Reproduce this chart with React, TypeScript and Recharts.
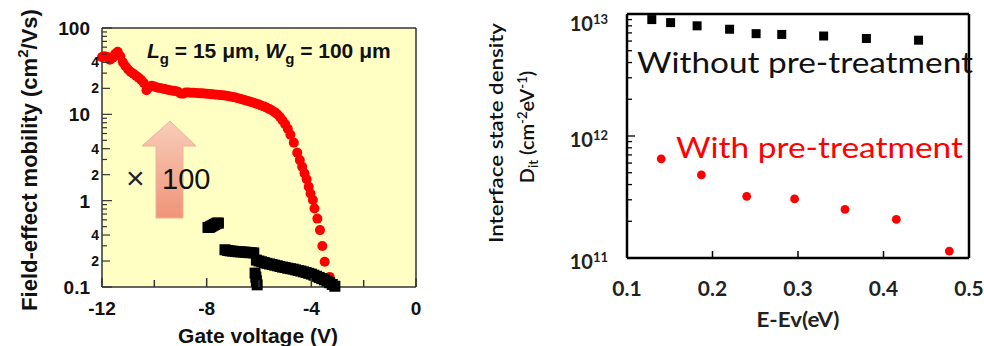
import React from 'react';
import { ScatterChart, Scatter, XAxis, YAxis, CartesianGrid } from 'recharts';

const FONT_L = '"Liberation Sans", Arial, sans-serif';
const FONT_R = 'Lato, "Open Sans", sans-serif';

// ---------- Left panel data: field-effect mobility vs gate voltage ----------
const gateVoltageRed = [
  -12.0, -11.9, -11.8, -11.7, -11.6, -11.5, -11.4, -11.3, -11.2, -11.1,
  -11.0, -10.9, -10.8, -10.7, -10.6, -10.5, -10.4, -10.3, -10.2, -10.1,
  -10.0, -9.9, -9.8, -9.7, -9.6, -9.5, -9.4, -9.3, -9.2, -9.1,
  -9.0, -8.9, -8.8, -8.7, -8.6, -8.5, -8.4, -8.3, -8.2, -8.1,
  -8.0, -7.9, -7.8, -7.7, -7.6, -7.5, -7.4, -7.3, -7.2, -7.1,
  -7.0, -6.9, -6.8, -6.7, -6.6, -6.5, -6.4, -6.3, -6.2, -6.1,
  -6.0, -5.9, -5.8, -5.7, -5.6, -5.5, -5.4, -5.3, -5.2, -5.1,
  -5.0, -4.9, -4.8, -4.67, -4.54, -4.44, -4.35, -4.26, -4.18, -4.1,
  -4.03, -3.94, -3.88, -3.77, -3.67, -3.58, -3.49, -3.3,
];
const mobilityRed = [
  46, 47, 46, 43, 45, 50, 53, 47, 40, 36,
  33, 31, 29.5, 28, 26.5, 25, 23, 19, 20.5, 21.5,
  21, 20.5, 20.2, 19.9, 19.6, 19.3, 19, 18.8, 18.6, 18.3,
  17.4, 17.3, 17.9, 17.9, 17.8, 17.8, 17.7, 17.6, 17.5, 17.4,
  17.3, 17.2, 17.1, 17.0, 16.9, 16.8, 16.6, 16.5, 16.3, 16.1,
  15.9, 15.7, 15.4, 15.1, 14.8, 14.5, 14.2, 13.9, 13.6, 13.3,
  13.0, 12.6, 12.3, 11.9, 11.5, 11.1, 10.6, 10.0, 9.3, 8.5,
  7.7, 6.8, 5.8, 4.7, 3.6, 2.95, 2.47, 2.07, 1.77, 1.45,
  1.21, 1.02, 0.81, 0.62, 0.456, 0.298, 0.196, 0.131,
];
const gateVoltageBlack = [
  -7.95, -7.9, -7.85, -7.8, -7.75, -7.7, -7.65, -7.6, -7.55,
  -7.3, -7.2, -7.1, -7.0, -6.9, -6.8, -6.7, -6.6, -6.5, -6.4, -6.3, -6.2,
  -6.15, -6.12, -6.1, -6.07,
  -6.1, -6.0, -5.9, -5.8, -5.7, -5.6, -5.5, -5.4, -5.3, -5.2, -5.1,
  -5.0, -4.9, -4.8, -4.7, -4.6, -4.5, -4.4, -4.3, -4.2, -4.1,
  -4.0, -3.9, -3.8, -3.7, -3.6, -3.5, -3.4, -3.3, -3.2, -3.1,
];
const mobilityBlack = [
  0.49, 0.49, 0.5, 0.51, 0.52, 0.53, 0.54, 0.55, 0.55,
  0.27, 0.265, 0.262, 0.26, 0.258, 0.256, 0.255, 0.254, 0.253, 0.25, 0.25, 0.248,
  0.145, 0.13, 0.118, 0.106,
  0.205, 0.2, 0.196, 0.192, 0.188, 0.185, 0.182, 0.179, 0.176, 0.173, 0.17,
  0.168, 0.165, 0.163, 0.161, 0.158, 0.155, 0.153, 0.15, 0.147, 0.144,
  0.141, 0.137, 0.133, 0.129, 0.125, 0.121, 0.117, 0.112, 0.107, 0.102,
];

const leftXTicks = [-12, -10, -8, -6, -4, -2, 0];
const leftXLabeled = [-12, -8, -4, 0];
const leftYTicks = [
  0.1, 0.2, 0.3, 0.4, 0.5, 0.6, 0.7, 0.8, 0.9,
  1, 2, 3, 4, 5, 6, 7, 8, 9,
  10, 20, 30, 40, 50, 60, 70, 80, 90, 100,
];

// ---------- Right panel data: interface state density ----------
const energyWithout = [0.129, 0.151, 0.182, 0.22, 0.251, 0.281, 0.33, 0.38, 0.441];
const ditWithout = [9.0e12, 8.5e12, 8.0e12, 7.5e12, 6.9e12, 6.8e12, 6.6e12, 6.3e12, 6.1e12];
const energyWith = [0.14, 0.187, 0.24, 0.296, 0.355, 0.415, 0.477];
const ditWith = [6.5e11, 4.8e11, 3.2e11, 3.05e11, 2.5e11, 2.07e11, 1.14e11];

const rightXTicks = [0.1, 0.2, 0.3, 0.4, 0.5];
const rightYTicks = [
  1e11, 2e11, 3e11, 4e11, 5e11, 6e11, 7e11, 8e11, 9e11,
  1e12, 2e12, 3e12, 4e12, 5e12, 6e12, 7e12, 8e12, 9e12, 1e13,
];

const toPoints = (xs: number[], ys: number[]) => xs.map((x, i) => ({ x, y: ys[i] }));
const redData = toPoints(gateVoltageRed, mobilityRed);
const blackData = toPoints(gateVoltageBlack, mobilityBlack);
const withoutData = toPoints(energyWithout, ditWithout);
const withData = toPoints(energyWith, ditWith);

const mantissa = (v: number) => {
  const e = Math.floor(Math.log10(v) + 1e-9);
  return { m: Math.round(v / Math.pow(10, e)), e };
};

const FRAME_L = '#333';

function LeftBottomTick(props: any) {
  const { x, y, payload } = props;
  const v = payload.value;
  const labeled = leftXLabeled.includes(v);
  return (
    <g>
      <line x1={x} x2={x} y1={y} y2={y - (labeled ? 9 : 7)} stroke={FRAME_L} strokeWidth={1.5} />
      {labeled && (
        <text x={x} y={y + 28} textAnchor="middle" fontFamily={FONT_L} fontSize={19} fontWeight="bold" fill="#111">
          {String(v)}
        </text>
      )}
    </g>
  );
}

function LeftTopTick(props: any) {
  const { x, y } = props;
  return <line x1={x} x2={x} y1={y} y2={y + 8} stroke={FRAME_L} strokeWidth={1.5} />;
}

function LeftYTick(props: any) {
  const { x, y, payload } = props;
  const { m } = mantissa(payload.value);
  const len = m === 1 ? 10 : m === 2 || m === 4 ? 8 : 5;
  return (
    <g>
      <line x1={x} x2={x + len} y1={y} y2={y} stroke={FRAME_L} strokeWidth={1.2} />
      {m === 1 && (
        <text x={x - 12} y={y + 7} textAnchor="end" fontFamily={FONT_L} fontSize={19} fontWeight="bold" fill="#111">
          {String(payload.value)}
        </text>
      )}
      {(m === 2 || m === 4) && (
        <text x={x - 3} y={y + 5} textAnchor="end" fontFamily={FONT_L} fontSize={14} fontWeight="bold" fill="#111">
          {String(m)}
        </text>
      )}
    </g>
  );
}

function LeftRightTick(props: any) {
  const { x, y, payload } = props;
  const { m } = mantissa(payload.value);
  const len = m === 1 ? 10 : m === 2 || m === 4 ? 8 : 5;
  return <line x1={x} x2={x - len} y1={y} y2={y} stroke={FRAME_L} strokeWidth={1.2} />;
}

function RightXTick(props: any) {
  const { x, y, payload } = props;
  return (
    <g>
      <line x1={x} x2={x} y1={y} y2={y - 7} stroke="#000" strokeWidth={1.5} />
      <text x={x} y={y + 38} textAnchor="middle" fontFamily={FONT_R} fontSize={21} fontWeight="bold" fill="#222">
        {payload.value.toFixed(1)}
      </text>
    </g>
  );
}

function RightYTick(props: any) {
  const { x, y, payload } = props;
  const { m, e } = mantissa(payload.value);
  const len = m === 1 ? 8 : 5;
  const base = e === 13 ? y + 17 : y + 11;
  return (
    <g>
      <line x1={x} x2={x + len} y1={y} y2={y} stroke="#000" strokeWidth={1.3} />
      {m === 1 && (
        <text x={x - 19} y={base} textAnchor="end" fontFamily={FONT_R} fontSize={20} fontWeight="bold" fill="#222">
          10<tspan dy={-7} fontSize={13}>{String(e)}</tspan>
        </text>
      )}
    </g>
  );
}

const RedDot = (p: any) => <circle cx={p.cx} cy={p.cy} r={5} fill="#FF0000" />;
const BlackSquare = (p: any) => <rect x={p.cx - 5.5} y={p.cy - 5.5} width={11} height={11} fill="#000" />;
const RedDotSmall = (p: any) => <circle cx={p.cx} cy={p.cy} r={4.4} fill="#FF0000" />;
const BlackSquareSmall = (p: any) => <rect x={p.cx - 4.5} y={p.cy - 4.5} width={9} height={9} fill="#000" />;

export default function App() {
  return (
    <div style={{ position: 'absolute', left: 0, top: 0, width: 984, height: 346, background: '#fff', overflow: 'hidden' }}>
      <div style={{ position: 'absolute', left: 0, top: 0 }}>
        <ScatterChart width={430} height={346} margin={{ top: 27, right: 13, bottom: 19, left: 42 }}>
          <CartesianGrid xAxisId="b" yAxisId="l" fill="#FFFFC4" fillOpacity={1} horizontal={false} vertical={false} stroke="none" />
          <XAxis
            xAxisId="b" type="number" dataKey="x" domain={[-12, 0]} ticks={leftXTicks} interval={0}
            tickSize={0} tickMargin={0} tickLine={false} tick={(p: any) => <LeftBottomTick {...p} />}
            axisLine={{ stroke: FRAME_L, strokeWidth: 1.5 }} height={40} orientation="bottom"
          />
          <XAxis
            xAxisId="t" type="number" domain={[-12, 0]} ticks={leftXTicks} interval={0}
            tickSize={0} tickMargin={0} tickLine={false} tick={(p: any) => <LeftTopTick {...p} />}
            axisLine={{ stroke: FRAME_L, strokeWidth: 1.5 }} height={1} orientation="top"
          />
          <YAxis
            yAxisId="l" type="number" dataKey="y" scale="log" domain={[0.1, 100]} ticks={leftYTicks} interval={0}
            tickSize={0} tickMargin={0} tickLine={false} tick={(p: any) => <LeftYTick {...p} />}
            axisLine={{ stroke: FRAME_L, strokeWidth: 1.5 }} width={60} orientation="left"
          />
          <YAxis
            yAxisId="r" type="number" scale="log" domain={[0.1, 100]} ticks={leftYTicks} interval={0}
            tickSize={0} tickMargin={0} tickLine={false} tick={(p: any) => <LeftRightTick {...p} />}
            axisLine={{ stroke: FRAME_L, strokeWidth: 1.5 }} width={1} orientation="right"
          />
          <Scatter xAxisId="b" yAxisId="l" data={redData} shape={RedDot} isAnimationActive={false} />
          <Scatter xAxisId="b" yAxisId="l" data={blackData} shape={BlackSquare} isAnimationActive={false} />
        </ScatterChart>
      </div>

      <div style={{ position: 'absolute', left: 480, top: 0 }}>
        <ScatterChart width={504} height={346} margin={{ top: 13, right: 14, bottom: 48, left: 57 }}>
          <XAxis
            xAxisId="b" type="number" dataKey="x" domain={[0.1, 0.5]} ticks={rightXTicks} interval={0}
            tickSize={0} tickMargin={0} tickLine={false} tick={(p: any) => <RightXTick {...p} />}
            axisLine={{ stroke: '#000', strokeWidth: 2.5 }} height={40} orientation="bottom"
          />
          <XAxis
            xAxisId="t" type="number" domain={[0.1, 0.5]} ticks={rightXTicks} tick={false} tickLine={false}
            axisLine={{ stroke: '#000', strokeWidth: 2.5 }} height={1} orientation="top"
          />
          <YAxis
            yAxisId="l" type="number" dataKey="y" scale="log" domain={[1e11, 1e13]} ticks={rightYTicks} interval={0}
            tickSize={0} tickMargin={0} tickLine={false} tick={(p: any) => <RightYTick {...p} />}
            axisLine={{ stroke: '#000', strokeWidth: 2.5 }} width={90} orientation="left"
          />
          <YAxis
            yAxisId="r" type="number" scale="log" domain={[1e11, 1e13]} ticks={rightYTicks} tick={false} tickLine={false}
            axisLine={{ stroke: '#000', strokeWidth: 2.5 }} width={1} orientation="right"
          />
          <Scatter xAxisId="b" yAxisId="l" data={withoutData} shape={BlackSquareSmall} isAnimationActive={false} />
          <Scatter xAxisId="b" yAxisId="l" data={withData} shape={RedDotSmall} isAnimationActive={false} />
        </ScatterChart>
      </div>

      <svg width={984} height={346} style={{ position: 'absolute', left: 0, top: 0, pointerEvents: 'none' }}>
        <defs>
          <linearGradient id="arrowGrad" x1="0" y1="0" x2="0" y2="1">
            <stop offset="0" stopColor="#F8CDB8" />
            <stop offset="1" stopColor="#EF9479" />
          </linearGradient>
        </defs>
        {/* Left panel annotations */}
        <polygon points="170,121 196,146 183,146 183,218 156,218 156,146 142,146" fill="url(#arrowGrad)" stroke="#F2B09A" strokeWidth={1} />
        <text x={126} y={189} fontFamily={FONT_L} fontSize={32} fill="#222">×</text>
        <text x={162} y={189} fontFamily={FONT_L} fontSize={29} fill="#111">100</text>
        <text x={147} y={58} fontFamily={FONT_L} fontSize={21} fontWeight="bold" fill="#111">
          <tspan fontStyle="italic">L</tspan>
          <tspan dy={6} fontSize={15}>g</tspan>
          <tspan dy={-6}> = 15 μm, </tspan>
          <tspan fontStyle="italic">W</tspan>
          <tspan dy={6} fontSize={15}>g</tspan>
          <tspan dy={-6}> = 100 μm</tspan>
        </text>
        <text x={258} y={343} textAnchor="middle" fontFamily={FONT_L} fontSize={21} fontWeight="bold" fill="#111">
          Gate voltage (V)
        </text>
        <text transform="translate(37,160) rotate(-90)" textAnchor="middle" fontFamily={FONT_L} fontSize={22} fontWeight="bold" fill="#111">
          Field-effect mobility (cm<tspan dy={-9} fontSize={15}>2</tspan><tspan dy={9}>/Vs)</tspan>
        </text>

        {/* Right panel annotations */}
        <text x={637} y={73} fontFamily={FONT_R} fontSize={28} fill="#111" textLength={336} lengthAdjust="spacingAndGlyphs">
          Without pre-treatment
        </text>
        <text x={676} y={158} fontFamily={FONT_R} fontSize={28} fill="#FF0000" textLength={287} lengthAdjust="spacingAndGlyphs">
          With pre-treatment
        </text>
        <text x={798} y={327} textAnchor="middle" fontFamily={FONT_R} fontSize={20} fontWeight="bold" fill="#222" textLength={83} lengthAdjust="spacingAndGlyphs">
          E-Ev(eV)
        </text>
        <text transform="translate(503,133) rotate(-90)" textAnchor="middle" fontFamily={FONT_R} fontSize={20} fontWeight={600} fill="#111" textLength={220} lengthAdjust="spacingAndGlyphs">
          Interface state density
        </text>
        <text transform="translate(534,127) rotate(-90)" textAnchor="middle" fontFamily={FONT_R} fontSize={20} fontWeight={600} fill="#111">
          D<tspan dy={4} fontSize={13}>it</tspan><tspan dy={-4}> (cm</tspan><tspan dy={-7} fontSize={13}>-2</tspan><tspan dy={7}>eV</tspan><tspan dy={-7} fontSize={13}>-1</tspan><tspan dy={7}>)</tspan>
        </text>
      </svg>
    </div>
  );
}
